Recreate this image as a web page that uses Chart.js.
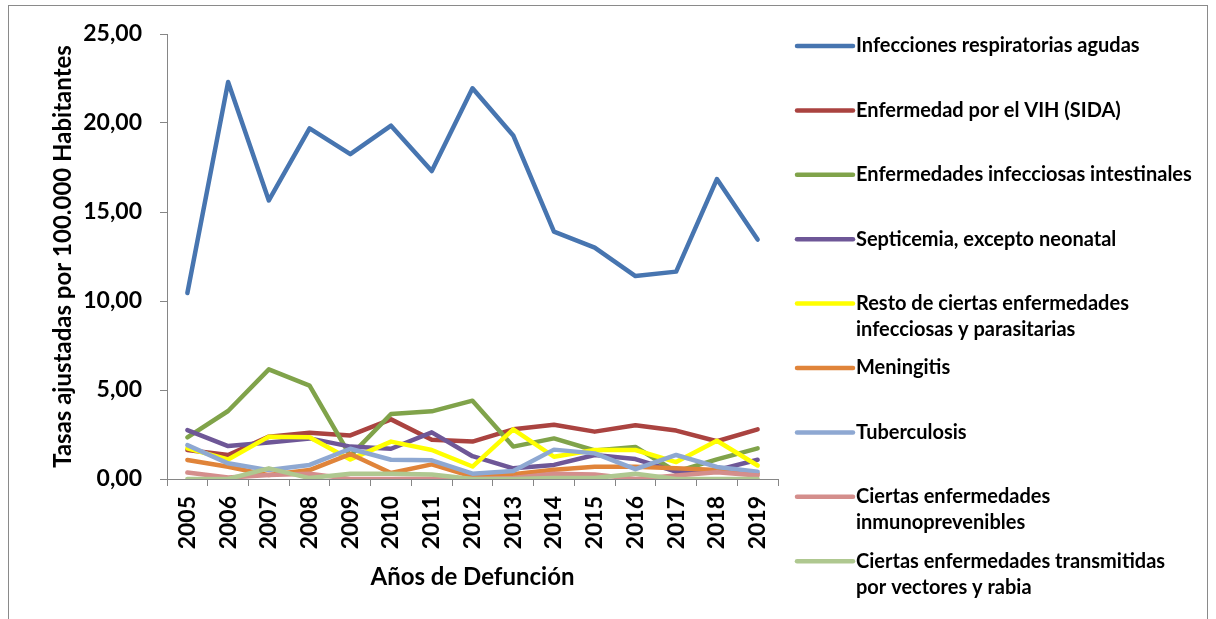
<!DOCTYPE html>
<html>
<head>
<meta charset="utf-8">
<script src="https://cdn.jsdelivr.net/npm/chart.js@4.4.1/dist/chart.umd.min.js"></script>
<style>
  html, body { margin: 0; padding: 0; background: #ffffff; overflow: hidden; }
  #wrap { position: relative; width: 1216px; height: 619px; }
  #frame { position: absolute; left: 8px; top: 5px; width: 1200px; height: 700px; border: 1px solid #8a8a8a; box-sizing: border-box; pointer-events: none; }
  canvas { position: absolute; left: 0; top: 0; }
</style>
</head>
<body>
<div id="wrap">
  <div id="frame"></div>
  <canvas id="c" width="1216" height="619"></canvas>
</div>
<script>
// ---- data ----
const years = ['2005','2006','2007','2008','2009','2010','2011','2012','2013','2014','2015','2016','2017','2018','2019'];

const seriesNames = [
  ['Infecciones respiratorias agudas'],
  ['Enfermedad por el VIH (SIDA)'],
  ['Enfermedades infecciosas intestinales'],
  ['Septicemia, excepto neonatal'],
  ['Resto de ciertas enfermedades', 'infecciosas y parasitarias'],
  ['Meningitis'],
  ['Tuberculosis'],
  ['Ciertas enfermedades', 'inmunoprevenibles'],
  ['Ciertas enfermedades transmitidas', 'por vectores y rabia']
];

const respiratorias = [10.45, 22.30, 15.65, 19.70, 18.25, 19.85, 17.30, 21.95, 19.30, 13.90, 13.00, 11.40, 11.65, 16.85, 13.45];
const vih           = [1.63, 1.35, 2.38, 2.60, 2.45, 3.35, 2.20, 2.10, 2.79, 3.05, 2.66, 3.02, 2.72, 2.12, 2.79];
const intestinales  = [2.34, 3.82, 6.16, 5.25, 1.30, 3.65, 3.80, 4.40, 1.82, 2.28, 1.60, 1.80, 0.41, 1.10, 1.72];
const septicemia    = [2.75, 1.85, 2.05, 2.28, 1.82, 1.70, 2.62, 1.28, 0.60, 0.79, 1.35, 1.12, 0.41, 0.50, 1.08];
const restoInfecc   = [1.72, 1.10, 2.38, 2.34, 1.10, 2.10, 1.63, 0.70, 2.79, 1.25, 1.63, 1.63, 0.95, 2.15, 0.76];
const meningitis    = [1.07, 0.69, 0.22, 0.50, 1.40, 0.34, 0.82, 0.13, 0.27, 0.52, 0.69, 0.69, 0.60, 0.50, 0.30];
const tuberculosis  = [1.90, 0.88, 0.50, 0.79, 1.70, 1.08, 1.05, 0.30, 0.45, 1.65, 1.44, 0.55, 1.35, 0.68, 0.41];
const inmunoprev    = [0.36, 0.08, 0.22, 0.30, 0.00, 0.00, 0.02, 0.00, 0.05, 0.30, 0.25, 0.00, 0.20, 0.38, 0.20];
const vectores      = [0.00, 0.00, 0.60, 0.05, 0.30, 0.30, 0.25, 0.00, 0.00, 0.05, 0.05, 0.30, 0.00, 0.00, 0.00];

const seriesValues = [respiratorias, vih, intestinales, septicemia, restoInfecc, meningitis, tuberculosis, inmunoprev, vectores];
const seriesColors = ['#4775B0', '#AA4340', '#80A34A', '#6E5797', '#FFFF00', '#E0843A', '#8EA8D2', '#D48E8C', '#AFC890'];

const yTitle = 'Tasas ajustadas por 100.000 Habitantes';
const xTitle = 'Años de Defunción';

// ---- chart ----
const FONT = 'Lato, "Open Sans", sans-serif';
const AXIS_GRAY = '#868686';

const datasets = seriesValues.map((vals, i) => ({
  label: seriesNames[i].join(' '),
  legendLines: seriesNames[i],
  data: vals,
  borderColor: seriesColors[i],
  backgroundColor: seriesColors[i],
  borderWidth: 4.5,
  pointRadius: 0,
  pointHoverRadius: 0,
  tension: 0,
  fill: false,
  borderJoinStyle: 'round',
  borderCapStyle: 'round',
  order: seriesValues.length - i
}));

const sideLegend = {
  id: 'sideLegend',
  afterDraw(chart) {
    const ctx = chart.ctx;
    const area = chart.chartArea;
    const x0 = area.right + 19;
    const x1 = area.right + 75;
    const tx = area.right + 78;
    const top = area.top + 12;
    const step = 64.4;
    ctx.save();
    ctx.font = 'bold 20px ' + FONT;
    ctx.textBaseline = 'middle';
    ctx.textAlign = 'left';
    chart.data.datasets.forEach((ds, i) => {
      const y = top + i * step;
      ctx.beginPath();
      ctx.strokeStyle = ds.borderColor;
      ctx.lineWidth = 4.5;
      ctx.lineCap = 'round';
      ctx.moveTo(x0, y);
      ctx.lineTo(x1, y);
      ctx.stroke();
      ctx.fillStyle = '#000000';
      ds.legendLines.forEach((line, k) => {
        ctx.fillText(line, tx, y + k * 26);
      });
    });
    ctx.restore();
  }
};

new Chart(document.getElementById('c'), {
  type: 'line',
  data: { labels: years, datasets: datasets },
  options: {
    responsive: false,
    animation: false,
    events: [],
    layout: { padding: { left: 49, top: 34, right: 438, bottom: 27.6 } },
    plugins: {
      legend: { display: false },
      tooltip: { enabled: false },
      title: { display: false }
    },
    scales: {
      x: {
        type: 'category',
        offset: true,
        grid: { display: true, drawOnChartArea: false, drawTicks: true, tickLength: 7, color: AXIS_GRAY, offset: true },
        border: { display: true, color: AXIS_GRAY, width: 1 },
        ticks: {
          autoSkip: false, maxRotation: 90, minRotation: 90, padding: 10,
          color: '#000000', font: { family: FONT, size: 23, weight: 'bold' }
        },
        title: {
          display: true, text: xTitle, color: '#000000', padding: 0,
          font: { family: FONT, size: 24, weight: 'bold' }
        },
        afterFit(scale) { scale.height = 112.4; }
      },
      y: {
        min: 0, max: 25,
        grid: { display: true, drawOnChartArea: false, drawTicks: true, tickLength: 7, color: AXIS_GRAY },
        border: { display: true, color: AXIS_GRAY, width: 1 },
        ticks: {
          stepSize: 5, padding: 18, color: '#000000',
          font: { family: FONT, size: 23, weight: 'bold' },
          callback: (v) => Number(v).toFixed(2).replace('.', ',')
        },
        title: {
          display: true, text: yTitle, color: '#000000', padding: 0,
          font: { family: FONT, size: 24, weight: 'bold' }
        },
        afterFit(scale) { scale.width = 118; }
      }
    }
  },
  plugins: [sideLegend]
});
</script>
</body>
</html>
